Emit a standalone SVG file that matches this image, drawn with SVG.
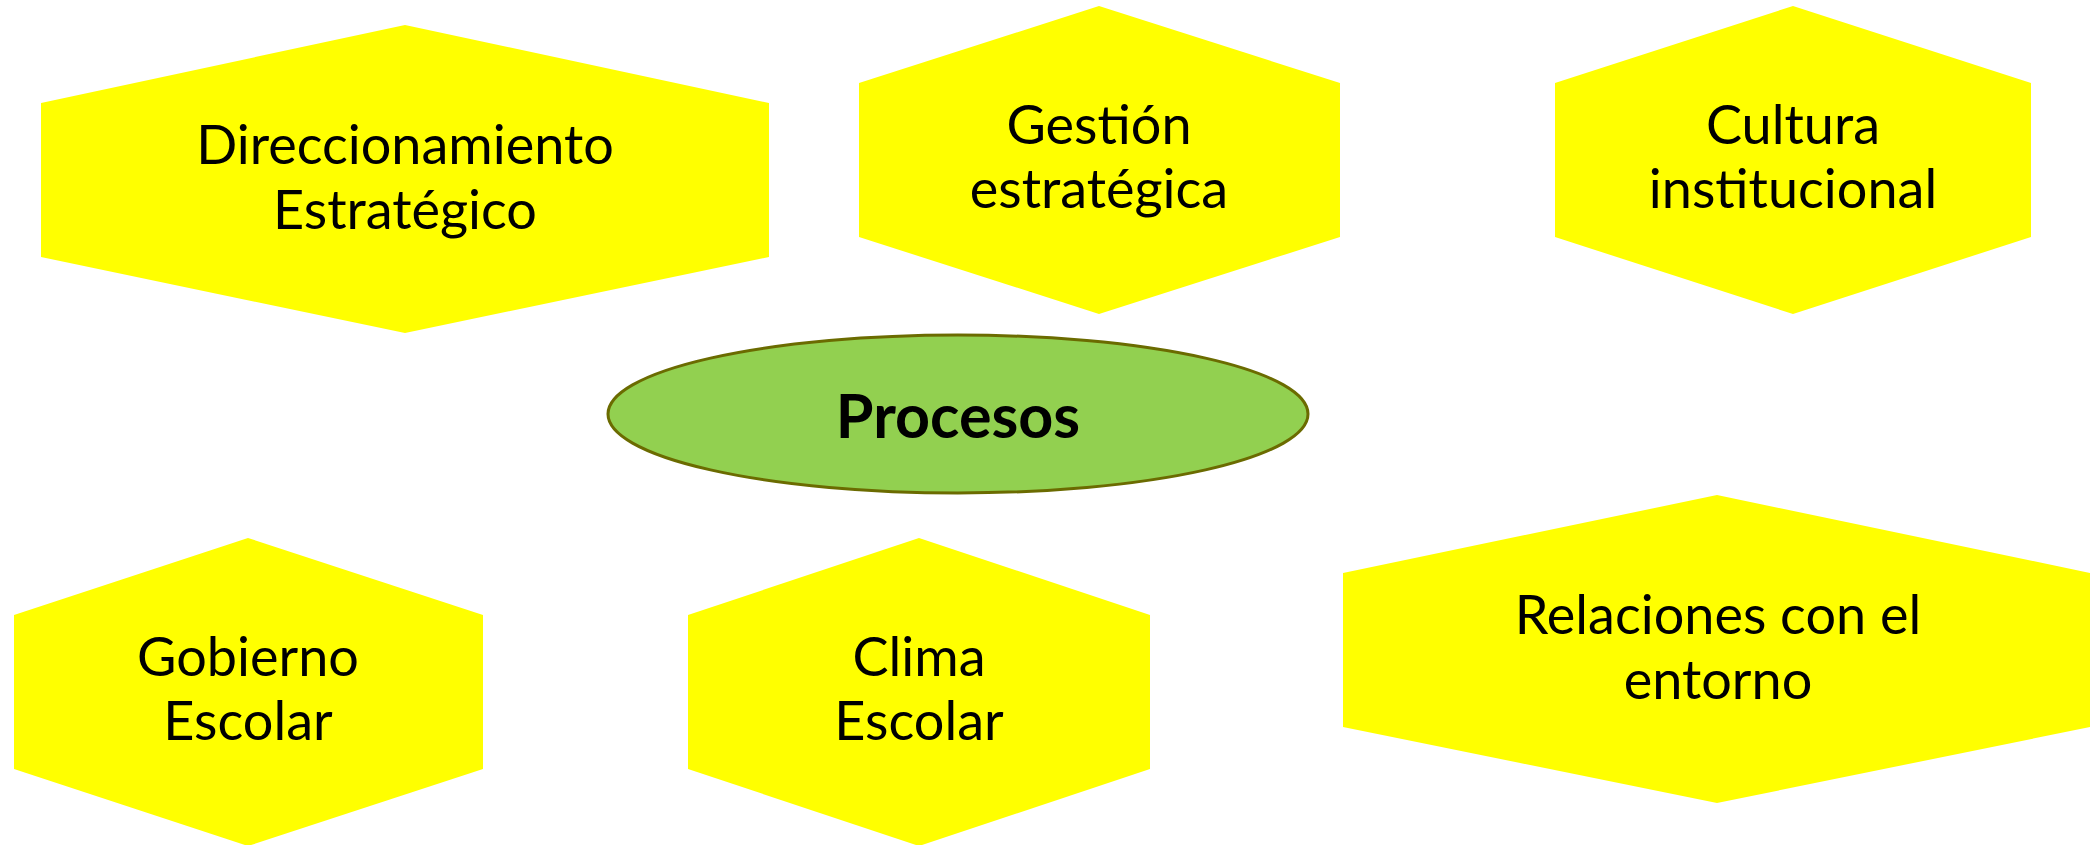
<svg xmlns="http://www.w3.org/2000/svg" width="2098" height="845" viewBox="0 0 2098 845">
<style>
.hex{fill:#FFFF00;stroke:none}
.t{font-family:Lato,"Liberation Sans",sans-serif;font-size:54px;fill:#000;text-anchor:middle}
.main{font-family:Lato,"Liberation Sans",sans-serif;font-size:61px;font-weight:bold;fill:#000;text-anchor:middle}
</style>
<rect width="2098" height="845" fill="#FFFFFF"/>
<g id="connectors"></g>
<g id="n1">
<polygon class="hex" points="41,103 405,25 769,103 769,257 405,333 41,257"/>
<text class="t" x="405" y="164">Direccionamiento</text>
<text class="t" x="405" y="229">Estratégico</text>
</g>
<g id="n2">
<polygon class="hex" points="859,83 1099,6 1340,83 1340,237 1099,314 859,237"/>
<text class="t" x="1099" y="144">Gestión</text>
<text class="t" x="1099" y="208">estratégica</text>
</g>
<g id="n3">
<polygon class="hex" points="1555,83 1793,6 2031,83 2031,237 1793,314 1555,237"/>
<text class="t" x="1793" y="144">Cultura</text>
<text class="t" x="1793" y="208">institucional</text>
</g>
<g id="n4">
<ellipse cx="958" cy="414" rx="350" ry="79" fill="#92D050" stroke="#6B6B00" stroke-width="3"/>
<text class="main" x="958" y="438">Procesos</text>
</g>
<g id="n5">
<polygon class="hex" points="14,615 248,538 483,615 483,769 248,846 14,769"/>
<text class="t" x="248" y="676">Gobierno</text>
<text class="t" x="248" y="740">Escolar</text>
</g>
<g id="n6">
<polygon class="hex" points="688,615 919,538 1150,615 1150,769 919,846 688,769"/>
<text class="t" x="919" y="676">Clima</text>
<text class="t" x="919" y="740">Escolar</text>
</g>
<g id="n7">
<polygon class="hex" points="1343,573 1717,495 2090,573 2090,727 1717,803 1343,727"/>
<text class="t" x="1718" y="634">Relaciones con el</text>
<text class="t" x="1718" y="699">entorno</text>
</g>
</svg>
